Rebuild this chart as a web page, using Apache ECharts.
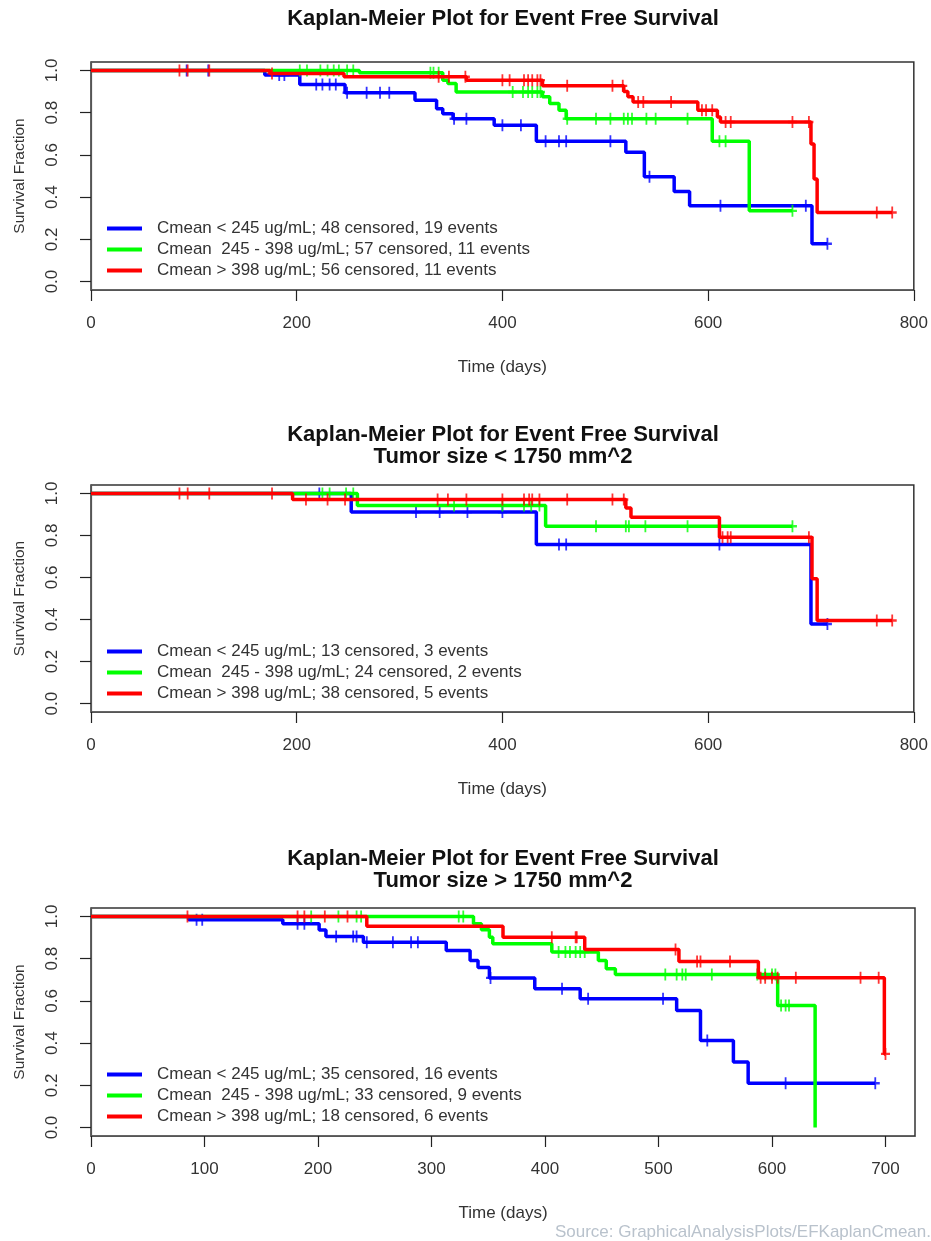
<!DOCTYPE html>
<html><head><meta charset="utf-8">
<script src="https://cdn.jsdelivr.net/npm/echarts@6/dist/echarts.min.js"></script>
<style>html,body{margin:0;padding:0;background:#fff}#c{width:931px;height:1241px}</style>
</head><body><div id="c"></div>
<script>
// ---------- tick labels ----------
const xTicksA = [0, 200, 400, 600, 800];
const xTicksB = [0, 100, 200, 300, 400, 500, 600, 700];
const yTicks = [0, 0.2, 0.4, 0.6, 0.8, 1.0];

// ---------- titles / legend labels ----------
const panelTitles = [
  'Kaplan-Meier Plot for Event Free Survival',
  'Kaplan-Meier Plot for Event Free Survival\nTumor size < 1750 mm^2',
  'Kaplan-Meier Plot for Event Free Survival\nTumor size > 1750 mm^2'
];
const legend1 = ['Cmean < 245 ug/mL; 48 censored, 19 events', 'Cmean  245 - 398 ug/mL; 57 censored, 11 events', 'Cmean > 398 ug/mL; 56 censored, 11 events'];
const legend2 = ['Cmean < 245 ug/mL; 13 censored, 3 events', 'Cmean  245 - 398 ug/mL; 24 censored, 2 events', 'Cmean > 398 ug/mL; 38 censored, 5 events'];
const legend3 = ['Cmean < 245 ug/mL; 35 censored, 16 events', 'Cmean  245 - 398 ug/mL; 33 censored, 9 events', 'Cmean > 398 ug/mL; 18 censored, 6 events'];

// ---------- Panel 1: all patients ----------
const p1BlueT = [0, 169, 203, 247, 315, 336, 342, 352, 392, 433, 520, 538, 567, 582, 701, 716];
const p1BlueS = [1, 0.978, 0.934, 0.894, 0.859, 0.819, 0.795, 0.771, 0.740, 0.665, 0.613, 0.497, 0.427, 0.359, 0.179, 0.179];
const p1BlueC = [93, 114, 183, 188, 219, 225, 232, 238, 249, 268, 281, 290, 353, 365, 400, 418, 442, 455, 462, 505, 543, 612, 695, 716];
const p1GreenT = [0, 261, 342, 347, 355, 439, 446, 455, 462, 604, 640, 682];
const p1GreenS = [1, 0.989, 0.954, 0.938, 0.898, 0.875, 0.843, 0.811, 0.771, 0.665, 0.335, 0.335];
const p1GreenC = [203, 210, 223, 230, 236, 241, 249, 255, 330, 333, 338, 410, 420, 425, 429, 434, 437, 463, 491, 505, 518, 522, 526, 540, 549, 580, 611, 617, 682];
const p1RedT = [0, 174, 246, 365, 439, 518, 522, 527, 590, 609, 612, 700, 703, 706, 779];
const p1RedS = [1, 0.985, 0.970, 0.954, 0.927, 0.900, 0.875, 0.851, 0.811, 0.779, 0.756, 0.652, 0.486, 0.327, 0.327];
const p1RedC = [86, 94, 115, 176, 338, 348, 364, 400, 407, 421, 425, 429, 434, 437, 463, 507, 517, 532, 537, 564, 594, 598, 604, 617, 622, 682, 698, 764, 779];

// ---------- Panel 2: tumor size < 1750 ----------
const p2BlueT = [0, 253, 433, 700, 716];
const p2BlueS = [1, 0.911, 0.757, 0.379, 0.379];
const p2BlueC = [222, 316, 339, 366, 400, 455, 462, 611, 716];
const p2GreenT = [0, 259, 442, 682];
const p2GreenS = [1, 0.943, 0.844, 0.844];
const p2GreenC = [225, 232, 248, 255, 353, 400, 421, 428, 436, 491, 520, 523, 539, 580, 682];
const p2RedT = [0, 196, 520, 525, 611, 701, 706, 779];
const p2RedS = [1, 0.971, 0.930, 0.887, 0.792, 0.594, 0.395, 0.395];
const p2RedC = [86, 94, 115, 176, 209, 230, 247, 337, 347, 365, 400, 421, 426, 429, 436, 463, 507, 518, 614, 619, 622, 698, 764, 779];

// ---------- Panel 3: tumor size > 1750 ----------
const p3BlueT = [0, 86, 169, 201, 207, 240, 313, 334, 341, 351, 391, 431, 516, 537, 566, 579, 691];
const p3BlueS = [1, 0.984, 0.965, 0.936, 0.905, 0.878, 0.839, 0.791, 0.758, 0.709, 0.657, 0.610, 0.555, 0.412, 0.310, 0.210, 0.210];
const p3BlueC = [93, 98, 182, 188, 216, 231, 234, 243, 266, 282, 288, 352, 415, 438, 504, 543, 612, 691];
const p3GreenT = [0, 337, 344, 351, 354, 406, 447, 454, 462, 605, 638, 638];
const p3GreenS = [1, 0.965, 0.937, 0.902, 0.871, 0.831, 0.791, 0.752, 0.725, 0.578, 0.578, 0.0];
const p3GreenC = [194, 218, 234, 238, 324, 328, 412, 418, 422, 427, 431, 435, 506, 516, 521, 524, 547, 587, 594, 600, 603, 608, 612, 615];
const p3RedT = [0, 243, 363, 435, 518, 588, 699, 700];
const p3RedS = [1, 0.953, 0.902, 0.843, 0.787, 0.710, 0.349, 0.349];
const p3RedC = [85, 182, 188, 206, 226, 406, 427, 428, 515, 534, 537, 563, 590, 594, 600, 605, 621, 678, 694, 700];

// ---------- helpers ----------
const BLUE = '#0000ff', GREEN = '#00ff00', RED = '#ff0000';
function levelAt(T, S, t) {
  let s = S[0];
  for (let i = 0; i < T.length; i++) { if (T[i] <= t) s = S[i]; }
  return s;
}
const PLUS = 'path://M4,0H6V4H10V6H6V10H4V6H0V4H4Z';

const panels = [
  { top: 62, height: 228, xMax: 800, xTicks: xTicksA, names: legend1,
    curves: [[p1BlueT, p1BlueS, p1BlueC, BLUE], [p1GreenT, p1GreenS, p1GreenC, GREEN], [p1RedT, p1RedS, p1RedC, RED]] },
  { top: 485, height: 227, xMax: 800, xTicks: xTicksA, names: legend2,
    curves: [[p2BlueT, p2BlueS, p2BlueC, BLUE], [p2GreenT, p2GreenS, p2GreenC, GREEN], [p2RedT, p2RedS, p2RedC, RED]] },
  { top: 908, height: 228, xMax: 726, xTicks: xTicksB, names: legend3,
    curves: [[p3BlueT, p3BlueS, p3BlueC, BLUE], [p3GreenT, p3GreenS, p3GreenC, GREEN], [p3RedT, p3RedS, p3RedC, RED]] }
];
const titleTops = [8, 424, 848];

const FONT = '"Liberation Sans", Arial, sans-serif';
const grid = [], xAxis = [], yAxis = [], series = [], legend = [], title = [];

panels.forEach((p, i) => {
  grid.push({ left: 91, top: p.top, width: 824, height: p.height, show: true,
    borderColor: '#333', borderWidth: 1.5, backgroundColor: 'transparent' });
  xAxis.push({ gridIndex: i, type: 'value', min: 0, max: p.xMax,
    axisLine: { show: true, onZero: false, lineStyle: { color: '#555', width: 1.2 } },
    axisTick: { show: true, customValues: p.xTicks, length: 11, lineStyle: { color: '#222', width: 1.2 } },
    axisLabel: { customValues: p.xTicks, margin: 25, fontSize: 17, color: '#333', fontFamily: FONT },
    splitLine: { show: false },
    name: 'Time (days)', nameLocation: 'middle', nameGap: 69,
    nameTextStyle: { fontSize: 17, color: '#333', fontFamily: FONT } });
  yAxis.push({ gridIndex: i, type: 'value', min: -0.04, max: 1.04,
    axisLine: { show: true, onZero: false, lineStyle: { color: '#555', width: 1.2 } },
    axisTick: { show: true, customValues: yTicks, length: 11, lineStyle: { color: '#222', width: 1.2 } },
    axisLabel: { customValues: yTicks, formatter: v => v.toFixed(1), rotate: 90, margin: 30,
      fontSize: 17, color: '#333', fontFamily: FONT },
    splitLine: { show: false },
    name: 'Survival Fraction', nameLocation: 'middle', nameGap: 63, nameRotate: 90,
    nameTextStyle: { fontSize: 15.5, color: '#333', fontFamily: FONT } });
  p.curves.forEach((c, k) => {
    const [T, S, C, col] = c;
    series.push({ type: 'line', name: p.names[k], xAxisIndex: i, yAxisIndex: i, step: 'end',
      showSymbol: false, symbol: 'none', data: T.map((t, j) => [t, S[j]]),
      lineStyle: { color: col, width: 3.5 }, itemStyle: { color: col }, z: 2 + k });
    series.push({ type: 'scatter', name: p.names[k] + ' (censored)', xAxisIndex: i, yAxisIndex: i,
      symbol: PLUS, symbolSize: [9, 12], data: C.map(t => [t, levelAt(T, S, t)]),
      itemStyle: { color: col }, z: 2 + k });
  });
  legend.push({ orient: 'vertical', left: 107, top: p.top + 158, padding: 0, itemGap: 4,
    itemWidth: 35, itemHeight: 4, icon: 'rect', selectedMode: false, data: p.names,
    textStyle: { fontSize: 17, lineHeight: 17, color: '#333', fontFamily: FONT, padding: [0, 0, 0, 10] } });
  title.push({ text: panelTitles[i], left: 503, top: titleTops[i], textAlign: 'center', padding: 0,
    textStyle: { fontSize: 22, fontWeight: 'bold', lineHeight: 22, color: '#111', fontFamily: FONT } });
});
title.push({ text: 'Source: GraphicalAnalysisPlots/EFKaplanCmean.', right: 0, top: 1224, padding: 0,
  textStyle: { fontSize: 17, fontWeight: 'normal', color: '#b9c2cc', fontFamily: FONT } });

const chart = echarts.init(document.getElementById('c'), null, { renderer: 'canvas' });
chart.setOption({ animation: false, backgroundColor: '#fff', title, grid, xAxis, yAxis, series, legend });
</script></body></html>
